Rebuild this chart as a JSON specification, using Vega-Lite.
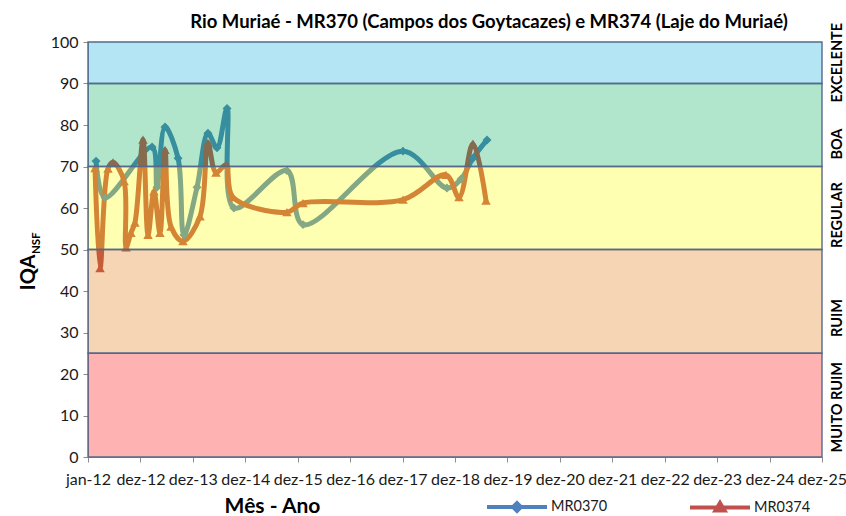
{
  "$schema": "https://vega.github.io/schema/vega-lite/v6.json",
  "width": 734,
  "height": 415,
  "autosize": "none",
  "padding": {"left": 88, "top": 42, "right": 24, "bottom": 59},
  "background": "white",
  "title": {
    "text": "Rio Muriaé - MR370 (Campos dos Goytacazes) e MR374 (Laje do Muriaé)",
    "font": "Lato", "fontSize": 18.5, "fontWeight": "bold", "color": "#000000",
    "anchor": "middle", "dx": 34, "offset": -9
  },
  "config": {"view": {"stroke": null}, "font": "Lato"},
  "datasets": {
    "iqa": [
      {"estacao": "MR0370", "data": "2012-02-26", "iqa": 71.3},
      {"estacao": "MR0370", "data": "2012-04-28", "iqa": 62.5},
      {"estacao": "MR0370", "data": "2013-03-22", "iqa": 74.7},
      {"estacao": "MR0370", "data": "2013-04-25", "iqa": 65},
      {"estacao": "MR0370", "data": "2013-06-20", "iqa": 79.5},
      {"estacao": "MR0370", "data": "2013-09-19", "iqa": 72},
      {"estacao": "MR0370", "data": "2013-10-30", "iqa": 53.5},
      {"estacao": "MR0370", "data": "2014-01-29", "iqa": 65},
      {"estacao": "MR0370", "data": "2014-04-15", "iqa": 78},
      {"estacao": "MR0370", "data": "2014-06-17", "iqa": 74.5},
      {"estacao": "MR0370", "data": "2014-08-26", "iqa": 84},
      {"estacao": "MR0370", "data": "2014-10-13", "iqa": 60},
      {"estacao": "MR0370", "data": "2015-10-17", "iqa": 69},
      {"estacao": "MR0370", "data": "2016-02-06", "iqa": 56},
      {"estacao": "MR0370", "data": "2018-01-02", "iqa": 73.7},
      {"estacao": "MR0370", "data": "2018-11-04", "iqa": 64.8},
      {"estacao": "MR0370", "data": "2019-02-10", "iqa": 67},
      {"estacao": "MR0370", "data": "2019-05-04", "iqa": 72},
      {"estacao": "MR0370", "data": "2019-08-10", "iqa": 76.4},
      {"estacao": "MR0374", "data": "2012-02-19", "iqa": 69.6},
      {"estacao": "MR0374", "data": "2012-03-25", "iqa": 45.5},
      {"estacao": "MR0374", "data": "2012-05-19", "iqa": 69.5},
      {"estacao": "MR0374", "data": "2012-06-23", "iqa": 71},
      {"estacao": "MR0374", "data": "2012-09-08", "iqa": 66.5},
      {"estacao": "MR0374", "data": "2012-09-22", "iqa": 50.5},
      {"estacao": "MR0374", "data": "2012-10-26", "iqa": 54},
      {"estacao": "MR0374", "data": "2012-11-23", "iqa": 56.5},
      {"estacao": "MR0374", "data": "2013-01-18", "iqa": 76.5},
      {"estacao": "MR0374", "data": "2013-02-22", "iqa": 53.5},
      {"estacao": "MR0374", "data": "2013-04-04", "iqa": 64},
      {"estacao": "MR0374", "data": "2013-05-16", "iqa": 54},
      {"estacao": "MR0374", "data": "2013-06-20", "iqa": 74},
      {"estacao": "MR0374", "data": "2013-08-01", "iqa": 55.5},
      {"estacao": "MR0374", "data": "2013-10-23", "iqa": 52},
      {"estacao": "MR0374", "data": "2014-02-19", "iqa": 58},
      {"estacao": "MR0374", "data": "2014-04-15", "iqa": 75.7},
      {"estacao": "MR0374", "data": "2014-06-10", "iqa": 68.5},
      {"estacao": "MR0374", "data": "2014-08-19", "iqa": 70.4},
      {"estacao": "MR0374", "data": "2014-10-06", "iqa": 62.6},
      {"estacao": "MR0374", "data": "2015-10-17", "iqa": 59},
      {"estacao": "MR0374", "data": "2016-02-06", "iqa": 61.2},
      {"estacao": "MR0374", "data": "2018-01-02", "iqa": 62},
      {"estacao": "MR0374", "data": "2018-10-28", "iqa": 68},
      {"estacao": "MR0374", "data": "2019-01-27", "iqa": 62.6},
      {"estacao": "MR0374", "data": "2019-05-04", "iqa": 75.5},
      {"estacao": "MR0374", "data": "2019-08-03", "iqa": 61.8}
    ],
    "faixas": [
      {"faixa": "EXCELENTE", "lo": 90, "hi": 100, "pos": 95},
      {"faixa": "BOA", "lo": 70, "hi": 90, "pos": 75.4},
      {"faixa": "REGULAR", "lo": 50, "hi": 70, "pos": 58.3},
      {"faixa": "RUIM", "lo": 25, "hi": 50, "pos": 33.5},
      {"faixa": "MUITO RUIM", "lo": 0, "hi": 25, "pos": 12}
    ],
    "sub": [{"rotulo": "NSF"}]
  },
  "layer": [
    {
      "data": {"name": "iqa"},
      "mark": {"type": "line", "interpolate": "catmull-rom", "strokeWidth": 5, "strokeCap": "round", "strokeJoin": "round"},
      "encoding": {
        "x": {
          "field": "data", "type": "temporal",
          "scale": {"type": "utc", "domain": [{"year": 2012, "month": 1, "date": 1, "utc": true}, {"year": 2025, "month": 12, "date": 28, "utc": true}]},
          "axis": {
            "values": [
              {"year": 2012, "month": 1, "date": 1, "utc": true},
              {"year": 2012, "month": 12, "date": 31, "utc": true},
              {"year": 2013, "month": 12, "date": 31, "utc": true},
              {"year": 2014, "month": 12, "date": 31, "utc": true},
              {"year": 2015, "month": 12, "date": 31, "utc": true},
              {"year": 2016, "month": 12, "date": 30, "utc": true},
              {"year": 2017, "month": 12, "date": 30, "utc": true},
              {"year": 2018, "month": 12, "date": 30, "utc": true},
              {"year": 2019, "month": 12, "date": 30, "utc": true},
              {"year": 2020, "month": 12, "date": 29, "utc": true},
              {"year": 2021, "month": 12, "date": 29, "utc": true},
              {"year": 2022, "month": 12, "date": 29, "utc": true},
              {"year": 2023, "month": 12, "date": 29, "utc": true},
              {"year": 2024, "month": 12, "date": 28, "utc": true},
              {"year": 2025, "month": 12, "date": 28, "utc": true}
            ],
            "labelExpr": "utcmonth(datum.value) == 0 ? 'jan-12' : 'dez-' + utcFormat(datum.value, '%y')",
            "labelFont": "Lato", "labelFontSize": 16, "labelColor": "#1a1a1a",
            "labelPadding": 9, "labelOverlap": false, "labelFlush": false, "labelBound": false,
            "tickColor": "#8c8c8c", "tickSize": 5, "domainColor": "#8c8c8c", "grid": false,
            "title": "Mês - Ano", "titleFont": "Lato", "titleFontSize": 21, "titleFontWeight": "bold",
            "titleColor": "#000000", "titleX": 184, "titleY": 49, "titleAlign": "center", "titleBaseline": "middle"
          }
        },
        "y": {
          "field": "iqa", "type": "quantitative",
          "scale": {"domain": [0, 100], "nice": false, "zero": false},
          "axis": {
            "values": [0, 10, 20, 30, 40, 50, 60, 70, 80, 90, 100],
            "labelFont": "Lato", "labelFontSize": 16, "labelColor": "#1a1a1a", "labelPadding": 5,
            "tickColor": "#8c8c8c", "tickSize": 5, "domainColor": "#7f8ea3", "grid": false,
            "title": "IQA", "titleFont": "Lato", "titleFontSize": 20, "titleFontWeight": "bold",
            "titleColor": "#000000", "titleX": -60, "titleY": 230, "titleAngle": 270,
            "titleAlign": "center", "titleBaseline": "middle"
          }
        },
        "color": {
          "field": "estacao", "type": "nominal",
          "scale": {"domain": ["MR0370", "MR0374"], "range": ["#4F81BD", "#C0504D"]},
          "legend": {
            "orient": "none", "legendX": 397, "legendY": 433, "direction": "horizontal",
            "title": null, "padding": 0, "symbolSize": 3600, "symbolStrokeWidth": 4,
            "labelFont": "Lato", "labelFontSize": 14.5, "labelColor": "#1a1a1a", "labelOffset": 2,
            "columnPadding": 74,
            "encode": {
              "symbols": {
                "update": {
                  "shape": {"signal": "datum.value === 'MR0370' ? 'M-1,0L1,0M0,-0.13L0.13,0L0,0.13L-0.13,0Z' : 'M-1,0L1,0M0,-0.15L0.15,0.1L-0.15,0.1Z'"},
                  "fill": {"scale": "color", "field": "value"}
                }
              }
            }
          }
        }
      }
    },
    {
      "data": {"name": "iqa"},
      "transform": [{"filter": "datum.estacao === 'MR0370'"}],
      "mark": {"type": "point", "shape": "diamond", "filled": true, "size": 80, "opacity": 1, "color": "#4F81BD"},
      "encoding": {
        "x": {"field": "data", "type": "temporal"},
        "y": {"field": "iqa", "type": "quantitative"}
      }
    },
    {
      "data": {"name": "iqa"},
      "transform": [{"filter": "datum.estacao === 'MR0374'"}],
      "mark": {"type": "point", "shape": "triangle-up", "filled": true, "size": 90, "opacity": 1, "color": "#C0504D"},
      "encoding": {
        "x": {"field": "data", "type": "temporal"},
        "y": {"field": "iqa", "type": "quantitative"}
      }
    },
    {
      "data": {"name": "faixas"},
      "mark": {"type": "rect", "fillOpacity": 0.3, "stroke": "#56698a", "strokeWidth": 1.4, "strokeOpacity": 1},
      "encoding": {
        "y": {"field": "lo", "type": "quantitative"},
        "y2": {"field": "hi"},
        "fill": {
          "field": "faixa", "type": "nominal",
          "scale": {"domain": ["EXCELENTE", "BOA", "REGULAR", "RUIM", "MUITO RUIM"], "range": ["#08A8DE", "#00AC55", "#FFFF00", "#DE7308", "#FF0000"]},
          "legend": null
        }
      }
    },
    {
      "data": {"name": "faixas"},
      "mark": {"type": "text", "angle": 270, "dy": 16, "align": "center", "baseline": "middle", "font": "Lato", "fontSize": 14.5, "fontWeight": "bold", "color": "#000000"},
      "encoding": {
        "x": {"datum": {"year": 2025, "month": 12, "date": 28, "utc": true}, "type": "temporal"},
        "y": {"field": "pos", "type": "quantitative"},
        "text": {"field": "faixa"}
      }
    },
    {
      "data": {"name": "sub"},
      "mark": {"type": "text", "angle": 270, "dy": -51, "align": "center", "baseline": "middle", "font": "Lato", "fontSize": 11.5, "fontWeight": "bold", "color": "#000000"},
      "encoding": {
        "x": {"datum": {"year": 2012, "month": 1, "date": 1, "utc": true}, "type": "temporal"},
        "y": {"datum": 51.5, "type": "quantitative"},
        "text": {"field": "rotulo"}
      }
    }
  ]
}
